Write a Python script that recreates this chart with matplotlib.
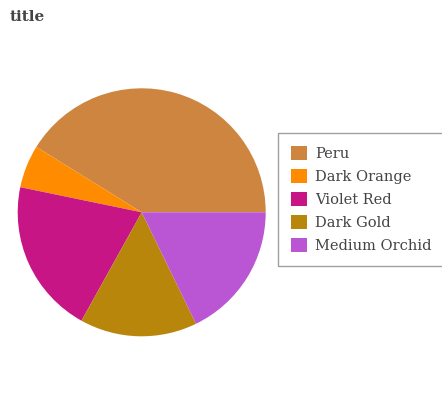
import matplotlib.pyplot as plt

labels = ["Peru", "Dark Orange", "Violet Red", "Dark Gold", "Medium Orchid"]
values = [41.2, 5.6, 20.2, 15.3, 17.8]
colors = ["#CD853F", "#FF8C00", "#C71585", "#B8860B", "#BA55D3"]

plt.rcParams['font.family'] = ['DejaVu Serif']

W, H = 442, 400
fig = plt.figure(figsize=(W / 100, H / 100), dpi=100)

# pie centre and radius in pixels
cx, cy, r = 141.7, 212.3, 124
ax = fig.add_axes([(cx - r) / W, (H - cy - r) / H, 2 * r / W, 2 * r / H])
wedges, _ = ax.pie(values, colors=colors, startangle=0, counterclock=True,
                   radius=1, wedgeprops=dict(linewidth=0))
ax.set_xlim(-1, 1)
ax.set_ylim(-1, 1)
ax.set_aspect('equal')

fig.text(10 / W, 1 - 17 / H, "title", fontsize=11, fontweight='bold',
         color='#444444', va='center', ha='left')

leg = fig.legend(wedges, labels, loc='upper left',
                 bbox_to_anchor=(278.3 / W, 1 - 133.3 / H),
                 fontsize=10.5, frameon=True, fancybox=False,
                 edgecolor='#888888', labelspacing=0.55,
                 handlelength=1.1, handleheight=1.1, handletextpad=0.5,
                 borderpad=0.9, borderaxespad=0)
for t in leg.get_texts():
    t.set_color('#444444')
leg.get_frame().set_linewidth(1)

fig.savefig("out.png", dpi=100)
